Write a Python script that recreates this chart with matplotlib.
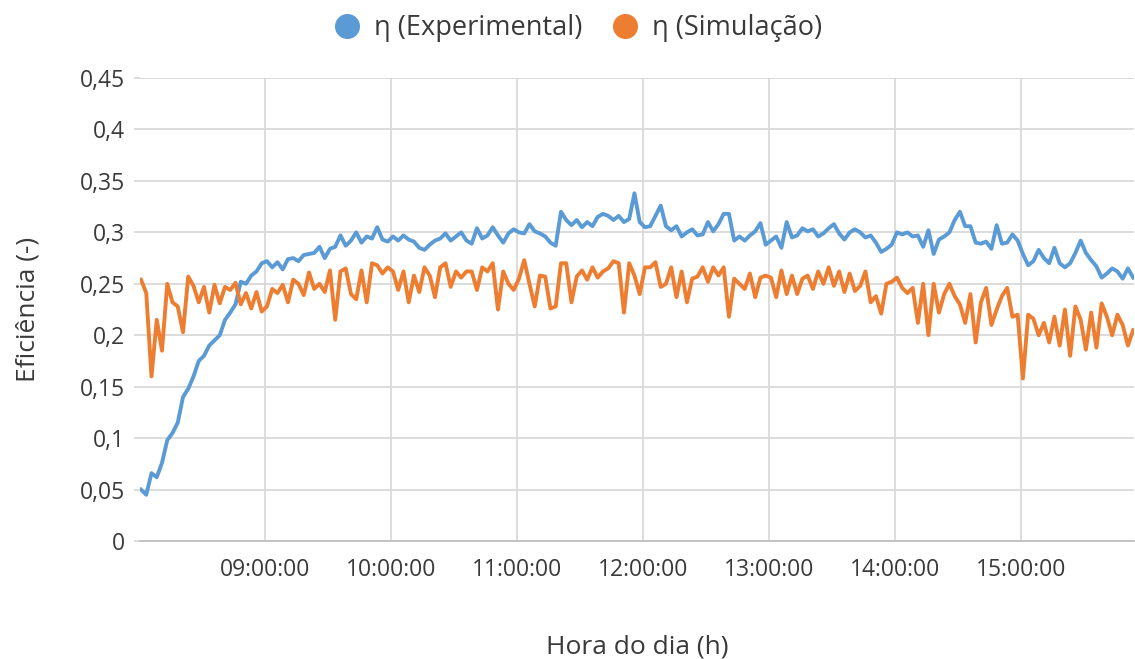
import numpy as np
import matplotlib
matplotlib.use("Agg")
import matplotlib.pyplot as plt
from matplotlib.lines import Line2D

plt.rcParams['font.family'] = ['Open Sans', 'DejaVu Sans']

# minutes after 08:00, one reading every 2.5 min
minutos = np.arange(1.0, 474.0, 2.5)

# eficiencia experimental (hora a hora)
exp_08h = [0.050, 0.045, 0.066, 0.062, 0.076, 0.098, 0.105, 0.115, 0.140, 0.148, 0.160, 0.175,
           0.180, 0.190, 0.195, 0.200, 0.215, 0.222, 0.230, 0.252, 0.250, 0.258, 0.262, 0.270]
exp_09h = [0.272, 0.266, 0.271, 0.264, 0.274, 0.275, 0.272, 0.278, 0.279, 0.280, 0.286, 0.275,
           0.284, 0.286, 0.297, 0.287, 0.292, 0.300, 0.290, 0.296, 0.294, 0.305, 0.293, 0.291]
exp_10h = [0.296, 0.292, 0.297, 0.293, 0.291, 0.285, 0.283, 0.288, 0.292, 0.294, 0.299, 0.292,
           0.296, 0.300, 0.292, 0.289, 0.304, 0.294, 0.297, 0.305, 0.297, 0.290, 0.299, 0.303]
exp_11h = [0.300, 0.299, 0.308, 0.301, 0.299, 0.296, 0.290, 0.287, 0.320, 0.312, 0.307, 0.312,
           0.305, 0.310, 0.306, 0.315, 0.318, 0.316, 0.312, 0.316, 0.310, 0.313, 0.338, 0.310]
exp_12h = [0.305, 0.306, 0.316, 0.326, 0.306, 0.302, 0.306, 0.296, 0.300, 0.303, 0.297, 0.298,
           0.310, 0.301, 0.308, 0.318, 0.318, 0.292, 0.296, 0.292, 0.297, 0.301, 0.309, 0.288]
exp_13h = [0.292, 0.296, 0.285, 0.310, 0.295, 0.297, 0.304, 0.301, 0.303, 0.296, 0.299, 0.304,
           0.308, 0.299, 0.293, 0.300, 0.303, 0.300, 0.295, 0.297, 0.290, 0.281, 0.284, 0.288]
exp_14h = [0.300, 0.298, 0.300, 0.296, 0.297, 0.286, 0.302, 0.279, 0.293, 0.296, 0.300, 0.312,
           0.320, 0.306, 0.306, 0.290, 0.289, 0.291, 0.284, 0.307, 0.289, 0.290, 0.298, 0.292]
exp_15h = [0.279, 0.268, 0.272, 0.283, 0.275, 0.270, 0.285, 0.270, 0.266, 0.270, 0.280, 0.292,
           0.280, 0.273, 0.267, 0.256, 0.260, 0.265, 0.262, 0.255, 0.265, 0.256]

# eficiencia da simulacao
sim_08h = [0.254, 0.241, 0.160, 0.215, 0.185, 0.250, 0.232, 0.228, 0.203, 0.257, 0.248, 0.232,
           0.247, 0.222, 0.249, 0.231, 0.247, 0.244, 0.251, 0.230, 0.241, 0.226, 0.242, 0.223]
sim_09h = [0.228, 0.245, 0.241, 0.249, 0.232, 0.254, 0.250, 0.239, 0.261, 0.245, 0.250, 0.242,
           0.263, 0.215, 0.262, 0.265, 0.240, 0.235, 0.263, 0.232, 0.270, 0.268, 0.260, 0.266]
sim_10h = [0.262, 0.244, 0.262, 0.232, 0.258, 0.242, 0.266, 0.258, 0.237, 0.266, 0.270, 0.247,
           0.262, 0.256, 0.262, 0.262, 0.244, 0.266, 0.262, 0.270, 0.225, 0.262, 0.250, 0.244]
sim_11h = [0.255, 0.273, 0.250, 0.228, 0.258, 0.257, 0.226, 0.228, 0.270, 0.270, 0.232, 0.257,
           0.263, 0.254, 0.266, 0.256, 0.262, 0.265, 0.272, 0.270, 0.222, 0.270, 0.258, 0.240]
sim_12h = [0.266, 0.266, 0.271, 0.247, 0.250, 0.266, 0.237, 0.262, 0.232, 0.255, 0.257, 0.266,
           0.252, 0.266, 0.258, 0.266, 0.218, 0.255, 0.250, 0.245, 0.260, 0.237, 0.256, 0.258]
sim_13h = [0.256, 0.237, 0.263, 0.240, 0.258, 0.240, 0.255, 0.258, 0.245, 0.262, 0.250, 0.266,
           0.248, 0.262, 0.242, 0.260, 0.243, 0.248, 0.262, 0.232, 0.238, 0.221, 0.250, 0.252]
sim_14h = [0.256, 0.246, 0.241, 0.246, 0.212, 0.250, 0.200, 0.250, 0.222, 0.240, 0.250, 0.238,
           0.230, 0.212, 0.240, 0.193, 0.232, 0.246, 0.210, 0.225, 0.238, 0.246, 0.218, 0.220]
sim_15h = [0.158, 0.220, 0.216, 0.200, 0.212, 0.193, 0.218, 0.190, 0.225, 0.180, 0.228, 0.215,
           0.186, 0.222, 0.188, 0.231, 0.218, 0.200, 0.220, 0.210, 0.190, 0.205]

horas = [60, 120, 180, 240, 300, 360, 420]
horas_txt = ["09:00:00", "10:00:00", "11:00:00", "12:00:00", "13:00:00", "14:00:00", "15:00:00"]
y_ticks = [0, 0.05, 0.1, 0.15, 0.2, 0.25, 0.3, 0.35, 0.4, 0.45]
y_txt = ["0", "0,05", "0,1", "0,15", "0,2", "0,25", "0,3", "0,35", "0,4", "0,45"]

experimental = exp_08h + exp_09h + exp_10h + exp_11h + exp_12h + exp_13h + exp_14h + exp_15h
simulacao = sim_08h + sim_09h + sim_10h + sim_11h + sim_12h + sim_13h + sim_14h + sim_15h

azul = "#5B9BD5"
laranja = "#ED7D31"
cor_txt = "#3A3A3A"
cinza_grid = "#D9D9D9"

fig = plt.figure(figsize=(11.35, 6.59), dpi=100)
ax = fig.add_axes([0.1233, 0.179, 0.876, 0.7026])

ax.plot(minutos, experimental, color=azul, lw=2.8, solid_joinstyle='round')
ax.plot(minutos, simulacao, color=laranja, lw=2.8, solid_joinstyle='round')

ax.set_xlim(0.5, 474.0)
ax.set_ylim(0, 0.45)
ax.set_xticks(horas)
ax.set_xticklabels(horas_txt)
ax.set_yticks(y_ticks)
ax.set_yticklabels(y_txt)
ax.grid(True, color=cinza_grid, lw=1.3)
ax.set_axisbelow(True)
for s in ['top', 'right', 'left']:
    ax.spines[s].set_visible(False)
ax.spines['bottom'].set_color("#BFBFBF")
ax.spines['bottom'].set_linewidth(1.3)
ax.tick_params(axis='y', length=4, color=cinza_grid, width=1.3, labelsize=16.5,
               labelcolor=cor_txt, pad=7)
ax.tick_params(axis='x', length=0, labelsize=16.5, labelcolor=cor_txt, pad=12)

ax.set_ylabel("Eficiência (-)", fontsize=19, color=cor_txt, labelpad=28)
ax.set_xlabel("Hora do dia (h)", fontsize=19, color=cor_txt, labelpad=38)

handles = [Line2D([], [], ls='none', marker='o', ms=17, color=azul),
           Line2D([], [], ls='none', marker='o', ms=17, color=laranja)]
fig.legend(handles, ["η (Experimental)", "η (Simulação)"], loc='center',
           bbox_to_anchor=(0.509, 0.957), ncol=2, frameon=False, fontsize=19.5,
           labelcolor=cor_txt, handlelength=1.0, handletextpad=0.5, columnspacing=1.05)

fig.savefig("out.png", dpi=100)
